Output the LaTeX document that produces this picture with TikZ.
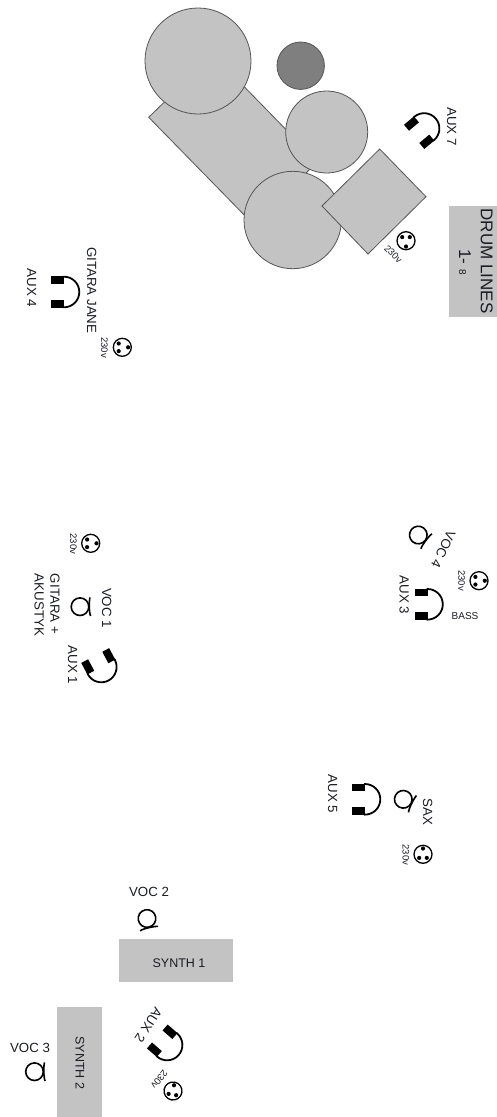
\documentclass[tikz,border=0pt]{standalone}
\usepackage{fontspec}
\setmainfont{Liberation Sans}
\usepackage{xcolor}
\usetikzlibrary{positioning}
\definecolor{kit}{RGB}{195,195,195}
\definecolor{kitdark}{RGB}{127,127,127}
\definecolor{edge}{RGB}{85,85,85}
\definecolor{ink}{RGB}{25,28,35}
\tikzset{
  drum/.style={draw=edge,fill=kit,line width=0.8pt},
  floater/.style={draw=edge,fill=kitdark,line width=0.8pt},
  stagebox/.style={fill=kit,inner sep=0pt},
  lab/.style={text=ink,inner sep=0pt,font=\fontsize{13.3}{15.7}\selectfont,align=left},
  biglab/.style={text=ink,inner sep=0pt,font=\fontsize{17}{20}\selectfont},
  tinylab/.style={text=ink,inner sep=0pt,font=\fontsize{9.5}{11}\selectfont},
  phones/.pic={
    \draw[black,line width=1.8pt] (-1,15.3) -- (0,15.3) arc[start angle=90,end angle=-90,radius=15.3] -- (-1,-15.3);
    \fill[black] (-13,8) rectangle (0,15.8);
    \fill[black] (-13,-8) rectangle (0,-15.8);
  },
  mike/.pic={
    \draw[black,line width=1.6pt] (0,0) circle (8.8);
    \draw[black,line width=1.6pt] (10,9.3) .. controls (9,6) and (9,-6) .. (10.6,-9.3);
  },
  plug/.pic={
    \draw[black,line width=1.3pt] (0,0) circle (9);
    \fill[black] (5.8,0) circle (2.1);
    \fill[black] (-3.6,3.8) circle (2.1);
    \fill[black] (-3.6,-3.8) circle (2.1);
  },
}
\begin{document}
\begin{tikzpicture}[x=1pt,y=1pt]
  \useasboundingbox (0,0) rectangle (497,-1117);

  % drum kit
  \draw[drum] (148.7,-117.3) -- (213,-54.7) -- (317.3,-161.7) -- (254,-225) -- cycle;
  \draw[drum] (198,-61) circle (53);
  \draw[floater] (300.7,-65.7) circle (23.7);
  \draw[drum] (326.7,-132) circle (41);
  \draw[drum] (292.7,-220) circle (48.7);
  \draw[drum] (379.7,-149) -- (426,-196.7) -- (368,-254) -- (322,-206) -- cycle;

  % boxes
  \node[stagebox,minimum width=48pt,minimum height=111.6pt] (drumlines) at (473,-261.5) {};
  \node[stagebox,minimum width=114.3pt,minimum height=42.4pt] (synthone) at (175.85,-960.5) {};
  \node[stagebox,minimum width=45.6pt,minimum height=110pt] (synthtwo) at (79.5,-1062) {};
  \node[biglab,rotate=-90] (drumtxt) at (486.7,-261) {DRUM LINES};
  \node[biglab,rotate=-90] (drumnum) at (465,-262) {1- {\fontsize{10}{12}\selectfont 8}};
  \node[lab,font=\fontsize{12.5}{15}\selectfont] (synthonetxt) at (179,-963.3) {SYNTH 1};
  \node[lab,font=\fontsize{12.5}{15}\selectfont,rotate=-90] (synthtwotxt) at (80,-1063) {SYNTH 2};

  % headphones
  \pic at (424.1,-128.5) [rotate=40] {phones};
  \pic at (64,-292) {phones};
  \pic at (427.5,-604.3) {phones};
  \pic at (365,-799.3) {phones};
  \pic at (101.3,-667) [rotate=-62] {phones};
  \pic at (167.1,-1045) [rotate=-41] {phones};

  % microphones
  \pic at (80,-606.7) {mike};
  \pic at (34.5,-1071.7) {mike};
  \pic at (147,-918.5) [rotate=-78] {mike};
  \pic at (418.3,-535) [rotate=-38] {mike};
  \pic at (403.3,-799.3) [rotate=-27] {mike};

  % sockets
  \pic at (406,-240.7) [rotate=-90] {plug};
  \pic at (122.3,-347.3) {plug};
  \pic at (90.7,-543.3) {plug};
  \pic at (479,-580.7) {plug};
  \pic at (423,-854.3) [rotate=90] {plug};
  \pic at (173,-1091) [rotate=80] {plug};
  \node[tinylab,rotate=-45] (volta) at (393.3,-254) {230v};
  \node[tinylab,rotate=-90] (voltb) at (104.3,-347.7) {230v};
  \node[tinylab,rotate=-90] (voltc) at (73.3,-544) {230v};
  \node[tinylab,rotate=-90] (voltd) at (461.7,-580.7) {230v};
  \node[tinylab,rotate=-90] (volte) at (406,-855) {230v};
  \node[tinylab,rotate=-128] (voltf) at (159.3,-1079.3) {230v};

  % labels
  \node[lab,rotate=-90] (auxseven) at (451.7,-126.7) {AUX 7};
  \node[lab,rotate=-90] (gitjane) at (91.7,-290.3) {GITARA JANE};
  \node[lab,rotate=-90] (auxfour) at (31.7,-287.8) {AUX 4};
  \node[lab,rotate=-90] (vocone) at (106.7,-608) {VOC 1};
  \node[lab,rotate=-90] (gitak) at (47,-605) {GITARA +\\AKUSTYK};
  \node[lab,rotate=-90] (auxone) at (72.7,-665) {AUX 1};
  \node[lab,rotate=-90] (auxthree) at (404.3,-595) {AUX 3};
  \node[lab,rotate=-115] (vocfour) at (443.3,-549.3) {VOC 4};
  \node[lab,font=\fontsize{10}{12}\selectfont] (bass) at (465,-616) {BASS};
  \node[lab,rotate=-90] (auxfive) at (332.7,-794) {AUX 5};
  \node[lab,rotate=-90] (sax) at (427.7,-812) {SAX};
  \node[lab] (voctwo) at (149,-891.7) {VOC 2};
  \node[lab] (vocthree) at (30,-1047.7) {VOC 3};
  \node[lab,rotate=-123] (auxtwo) at (148.5,-1024.7) {AUX 2};
\end{tikzpicture}
\end{document}
